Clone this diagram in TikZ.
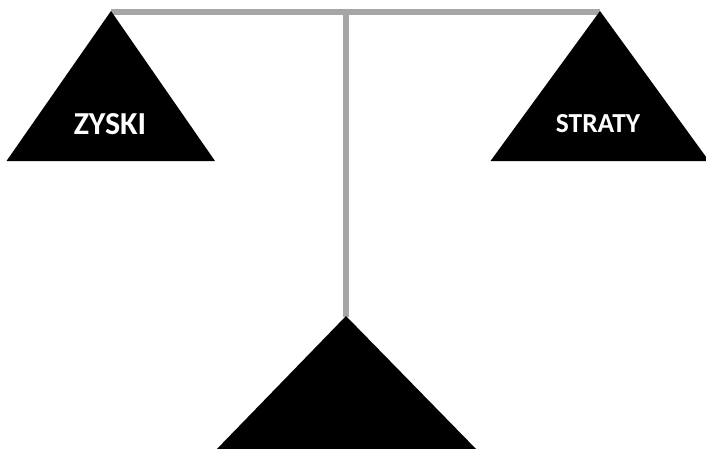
\documentclass[tikz,border=0pt]{standalone}
\usepackage{fontspec}
\setmainfont{Carlito}
\begin{document}
\begin{tikzpicture}[x=1pt,y=-1pt,
  pan/.style={fill=black},
  beam/.style={draw={rgb,255:red,166;green,166;blue,166},line width=6pt},
  lbl/.style={text=white,inner sep=0pt,anchor=center}]
\useasboundingbox (0,0) rectangle (706,448);
\clip (0,0) rectangle (706,448);
% beams
\coordinate (tl) at (111,12);
\coordinate (tr) at (600,12);
\coordinate (tm) at (345.5,12);
\coordinate (bm) at (345.5,317);
\draw[beam] (tl) -- (tr);
\draw[beam] (tm) -- (bm);
% triangles
\fill[pan] (111,11) -- (6.5,161) -- (215,161) -- cycle;
\fill[pan] (600,11) -- (490.5,161) -- (709,161) -- cycle;
\fill[pan] (346,316) -- (214,452) -- (479,452) -- cycle;
% labels
\node[lbl,font=\fontsize{32}{36}\selectfont\bfseries] (zyski) at (110,124) {ZYSKI};
\node[lbl,font=\fontsize{27.5}{31}\selectfont\bfseries] (straty) at (598,123.5) {STRATY};
\end{tikzpicture}
\end{document}
